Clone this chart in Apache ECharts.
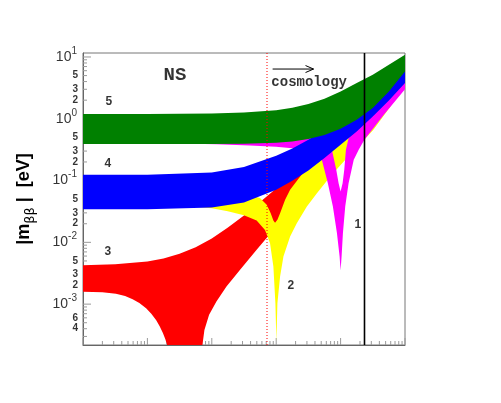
<!DOCTYPE html>
<html><head><meta charset="utf-8">
<script src="https://cdn.jsdelivr.net/npm/echarts/dist/echarts.min.js"></script>
<style>html,body{margin:0;padding:0;background:#fff}#c{width:501px;height:403px}</style>
</head><body><div id="c"></div>
<script>
// ---------- axis ranges ----------
const X_MIN = 1e-4, X_MAX = 10, Y_MIN = 2.18e-4, Y_MAX = 11.6;

// ---------- band 5 (green) ----------
const greenX     = [1e-4, 1e-3, 1e-2, 0.0316, 0.1, 0.178, 0.316, 0.562, 1, 1.78, 3.16, 5.62, 10];
const greenUpper = [1.19, 1.19, 1.22, 1.26, 1.38, 1.51, 1.73, 2.11, 2.77, 3.78, 5.16, 7.49, 10.9];
const greenLower = [0.389, 0.389, 0.389, 0.393, 0.409, 0.43, 0.469, 0.545, 0.69, 0.963, 1.49, 2.77, 5.84];

// ---------- band 4 (blue) ----------
const blueX     = [1e-4, 1e-3, 1e-2, 0.0316, 0.1, 0.178, 0.316, 0.562, 1, 1.78, 3.16, 5.62, 10];
const blueUpper = [0.124, 0.124, 0.135, 0.165, 0.252, 0.331, 0.457, 0.663, 0.963, 1.40, 2.30, 3.78, 6.22];
const blueLower = [0.0344, 0.0344, 0.0366, 0.0441, 0.0708, 0.099, 0.146, 0.231, 0.379, 0.624, 1.09, 1.98, 3.78];

// ---------- band 3 (red) ----------
const redUpperX = [1e-4, 3.16e-4, 1e-3, 1.78e-3, 3.16e-3, 5.62e-3, 0.01, 0.0178, 0.0316, 0.0562, 0.1, 0.178, 0.316, 0.562, 1, 3.16, 10];
const redUpperY = [0.00427, 0.00443, 0.0049, 0.00547, 0.00651, 0.00835, 0.0115, 0.0174, 0.0272, 0.0448, 0.0745, 0.129, 0.225, 0.394, 0.689, 2.03, 6.22];
const redLowerX = [1e-4, 2e-4, 3.25e-4, 4.5e-4, 5.9e-4, 7.5e-4, 9.55e-4, 1.15e-3, 1.37e-3, 1.55e-3, 1.74e-3, 1.9e-3, 2.01e-3, 2.10e-3,
                   6.98e-3, 7.68e-3, 9.08e-3, 0.0118, 0.0169, 0.0273, 0.0497, 0.0903, 0.164, 0.299, 0.545, 0.99, 3.17, 10];
const redLowerY = [0.00158, 0.00155, 0.00147, 0.00136, 0.0012, 0.00104, 8.6e-4, 7.0e-4, 5.5e-4, 4.4e-4, 3.4e-4, 2.7e-4, 2.25e-4, 1.8e-4,
                   1.8e-4, 3.83e-4, 6.7e-4, 0.0011, 0.00193, 0.00358, 0.00756, 0.0159, 0.0336, 0.0708, 0.14, 0.278, 1.09, 4.28];

// ---------- band 2 (yellow) ----------
const yellowUpperX = [1e-4, 0.0177, 0.0315, 0.056, 0.0712, 0.0822, 0.0904, 0.096, 0.1044, 0.1149, 0.1375, 0.1645, 0.2357, 0.3804, 0.6922, 1.26, 3.24, 10];
const yellowUpperY = [0.0708, 0.0708, 0.0625, 0.052, 0.0405, 0.0297, 0.0225, 0.0208, 0.0231, 0.0297, 0.0488, 0.0708, 0.1164, 0.217, 0.404, 0.663, 1.79, 5.49];
const yellowLowerX = [1e-4, 3.16e-3, 0.01, 0.0177, 0.0315, 0.0497, 0.067, 0.0802, 0.0904, 0.0972, 0.1007, 0.1044, 0.1149, 0.1295, 0.1645, 0.209, 0.2994, 0.4287, 0.6922, 1.118, 1.85, 3.24, 10];
const yellowLowerY = [0.0405, 0.0395, 0.0357, 0.032, 0.0274, 0.0225, 0.0159, 0.00969, 0.00406, 0.00103, 2.48e-4, 0.00103, 0.0028, 0.0059, 0.0124, 0.0204, 0.038, 0.0625, 0.1164, 0.204, 0.356, 0.663, 3.34];

// ---------- band 1 (magenta) ----------
const magentaUpperX = [1e-4, 0.1295, 0.428, 0.612, 0.733, 0.856, 0.931, 1.0, 1.074, 1.14, 1.21, 1.33, 1.60, 2.34, 4.69, 10];
const magentaUpperY = [0.586, 0.586, 0.53, 0.457, 0.315, 0.149, 0.0908, 0.0666, 0.0908, 0.149, 0.315, 0.486, 0.624, 0.906, 1.69, 4.0];
const magentaLowerX = [1e-4, 0.005, 0.0118, 0.0391, 0.0995, 0.1768, 0.265, 0.379, 0.511, 0.634, 0.759, 0.877, 0.965, 1.0, 1.036, 1.087, 1.18, 1.33, 1.60, 1.91, 2.34, 4.69, 10];
const magentaLowerY = [0.40, 0.396, 0.388, 0.37, 0.352, 0.333, 0.31, 0.273, 0.217, 0.0908, 0.038, 0.0141, 0.0059, 0.00349, 0.0059, 0.0141, 0.038, 0.0908, 0.217, 0.315, 0.457, 1.16, 3.0];

// ---------- reference lines ----------
const tritiumLimit = 2.35;     // solid black vertical
const cosmologyLimit = 0.072;  // red dotted vertical

// ---------- tick labels ----------
const yMajorValues = [10, 1, 0.1, 0.01, 0.001];
const yMajorExps = ['1', '0', '-1', '-2', '-3'];
const yMinorValues = [5, 3, 2, 0.5, 0.3, 0.2, 0.05, 0.03, 0.02, 0.005, 0.003, 0.002, 0.0006, 0.0004];
const yMinorTexts = ['5', '3', '2', '5', '3', '2', '5', '3', '2', '5', '3', '2', '6', '4'];

// ---------- annotations ----------
const bandLabels = [
  {x: 2.53e-4, y: 1.90, t: '5'},
  {x: 2.44e-4, y: 0.185, t: '4'},
  {x: 2.44e-4, y: 0.00707, t: '3'},
  {x: 0.169, y: 0.00198, t: '2'},
  {x: 1.86, y: 0.019, t: '1'}
];
const nsLabel = {x: 0.00268, y: 5.06, t: 'NS'};
const cosmoLabel = {x: 0.084, y: 3.9, t: 'cosmology'};
const arrowFrom = [0.088, 6.38], arrowTo = [0.38, 6.38];

// ---------- helpers ----------
function band(color, ux, uy, lx, ly, z) {
  return {
    type: 'custom', z: z, clip: true, silent: true,
    data: [[1, 1]], encode: {x: 0, y: 1},
    renderItem: function (params, api) {
      const pts = [];
      for (let i = 0; i < ux.length; i++) pts.push(api.coord([ux[i], uy[i]]));
      for (let i = lx.length - 1; i >= 0; i--) pts.push(api.coord([lx[i], ly[i]]));
      return {type: 'polygon', shape: {points: pts}, style: {fill: color, stroke: null}};
    }
  };
}

// tick positions (decade structure of the log axes)
const factors = [2, 3, 4, 5, 6, 7, 8, 9];
const xMajorTicks = [1e-4, 1e-3, 1e-2, 1e-1, 1, 10];
const yMajorTicks = [1e-3, 1e-2, 1e-1, 1, 10];
const xMinorTicks = [], yMinorTicks = [];
[1e-4, 1e-3, 1e-2, 1e-1, 1].forEach(d => factors.forEach(f => xMinorTicks.push(f * d)));
[1e-4, 1e-3, 1e-2, 1e-1, 1].forEach(d => factors.forEach(f => { const v = f * d; if (v > Y_MIN && v < Y_MAX) yMinorTicks.push(v); }));

const chart = echarts.init(document.getElementById('c'), null, {renderer: 'canvas'});

const tickColor = '#9a9a9a';
const option = {
  animation: false,
  backgroundColor: '#fff',
  grid: {left: 83, right: 96, top: 53, bottom: 58, show: true, borderColor: '#777', borderWidth: 1, backgroundColor: 'transparent'},
  xAxis: {type: 'log', logBase: 10, min: X_MIN, max: X_MAX,
    axisLabel: {show: false}, axisTick: {show: false}, splitLine: {show: false}, minorTick: {show: false},
    axisLine: {show: true, lineStyle: {color: '#666', width: 1}}},
  yAxis: {type: 'log', logBase: 10, min: Y_MIN, max: Y_MAX,
    axisLabel: {show: false}, axisTick: {show: false}, splitLine: {show: false},
    axisLine: {show: true, lineStyle: {color: '#666', width: 1}},
    name: '{b||m}{s|ββ}{b| |  [eV]}', nameLocation: 'middle', nameRotate: 90, nameGap: 46,
    nameTextStyle: {fontFamily: 'Liberation Sans', fontWeight: 'bold', fontSize: 18, color: '#000',
      rich: {
        b: {fontFamily: 'Liberation Sans', fontWeight: 'bold', fontSize: 18, color: '#000', lineHeight: 26, verticalAlign: 'middle'},
        s: {fontFamily: 'DejaVu Sans', fontWeight: 'normal', fontSize: 13, color: '#000', lineHeight: 26, verticalAlign: 'bottom'}
      }}
  },
  series: [
    // ticks
    {type: 'custom', z: 1, silent: true, clip: false, data: [[1, 1]], encode: {x: 0, y: 1},
      renderItem: function (p, api) {
        const ch = [];
        const L = (x1, y1, x2, y2) => ch.push({type: 'line', shape: {x1, y1, x2, y2}, style: {stroke: tickColor, lineWidth: 1}});
        yMajorTicks.forEach(v => { const c = api.coord([X_MIN, v]); L(c[0], c[1], c[0] + 8, c[1]); });
        yMinorTicks.forEach(v => { const c = api.coord([X_MIN, v]); L(c[0], c[1], c[0] + 4, c[1]); });
        xMajorTicks.forEach(v => { const c = api.coord([v, Y_MIN]); L(c[0], c[1], c[0], c[1] - 7); });
        xMinorTicks.forEach(v => { const c = api.coord([v, Y_MIN]); L(c[0], c[1], c[0], c[1] - 4); });
        return {type: 'group', children: ch};
      }},
    band('#ff0000', redUpperX, redUpperY, redLowerX, redLowerY, 2),
    band('#ffff00', yellowUpperX, yellowUpperY, yellowLowerX, yellowLowerY, 3),
    band('#ff00ff', magentaUpperX, magentaUpperY, magentaLowerX, magentaLowerY, 4),
    band('#0000ff', blueX, blueUpper, blueX, blueLower, 5),
    band('#008000', greenX, greenUpper, greenX, greenLower, 6),
    // reference lines + arrow
    {type: 'custom', z: 8, silent: true, clip: true, data: [[1, 1]], encode: {x: 0, y: 1},
      renderItem: function (p, api) {
        const a = api.coord([tritiumLimit, Y_MIN]), b = api.coord([tritiumLimit, Y_MAX]);
        const c = api.coord([cosmologyLimit, Y_MIN]), d = api.coord([cosmologyLimit, Y_MAX]);
        const s = api.coord(arrowFrom), e = api.coord(arrowTo);
        return {type: 'group', children: [
          {type: 'line', shape: {x1: a[0], y1: a[1], x2: b[0], y2: b[1]}, style: {stroke: '#000', lineWidth: 1.6}},
          {type: 'line', shape: {x1: c[0], y1: c[1], x2: d[0], y2: d[1]}, style: {stroke: '#ff0000', lineWidth: 1, lineDash: [1, 2]}},
          {type: 'line', shape: {x1: s[0], y1: s[1], x2: e[0], y2: e[1]}, style: {stroke: '#000', lineWidth: 1}},
          {type: 'polyline', shape: {points: [[e[0] - 8, e[1] - 3.5], [e[0], e[1]], [e[0] - 8, e[1] + 3.5]]}, style: {stroke: '#000', fill: null, lineWidth: 1}}
        ]};
      }},
    // y major tick labels
    {type: 'scatter', z: 9, silent: true, clip: false, symbolSize: 0,
      data: yMajorValues.map(v => [X_MIN, v]),
      label: {show: true, position: 'left', distance: 6,
        formatter: p => '{b|10}{s|' + yMajorExps[p.dataIndex] + '}',
        rich: {
          b: {fontFamily: 'Liberation Sans', fontSize: 14, color: '#000', lineHeight: 22, verticalAlign: 'middle'},
          s: {fontFamily: 'Liberation Sans', fontSize: 10, color: '#000', lineHeight: 22, verticalAlign: 'top'}
        }}},
    // y minor tick labels
    {type: 'scatter', z: 9, silent: true, clip: false, symbolSize: 0,
      data: yMinorValues.map(v => [X_MIN, v]),
      label: {show: true, position: 'left', distance: 5,
        formatter: p => yMinorTexts[p.dataIndex],
        fontFamily: 'Liberation Sans', fontWeight: 'bold', fontSize: 10, color: '#000'}},
    // band labels
    {type: 'scatter', z: 9, silent: true, clip: false, symbolSize: 0,
      data: bandLabels.map(o => [o.x, o.y]),
      label: {show: true, position: 'inside', formatter: p => bandLabels[p.dataIndex].t,
        fontFamily: 'Liberation Sans', fontWeight: 'bold', fontSize: 12, color: '#000'}},
    // NS
    {type: 'scatter', z: 9, silent: true, clip: false, symbolSize: 0,
      data: [[nsLabel.x, nsLabel.y]],
      label: {show: true, position: 'inside', formatter: nsLabel.t,
        fontFamily: 'Liberation Mono', fontWeight: 'bold', fontSize: 19, color: '#000'}},
    // cosmology
    {type: 'scatter', z: 9, silent: true, clip: false, symbolSize: 0,
      data: [[cosmoLabel.x, cosmoLabel.y]],
      label: {show: true, position: 'right', distance: 0, formatter: cosmoLabel.t,
        fontFamily: 'Liberation Mono', fontWeight: 'bold', fontSize: 14, color: '#000'}}
  ]
};
chart.setOption(option);
</script></body></html>
